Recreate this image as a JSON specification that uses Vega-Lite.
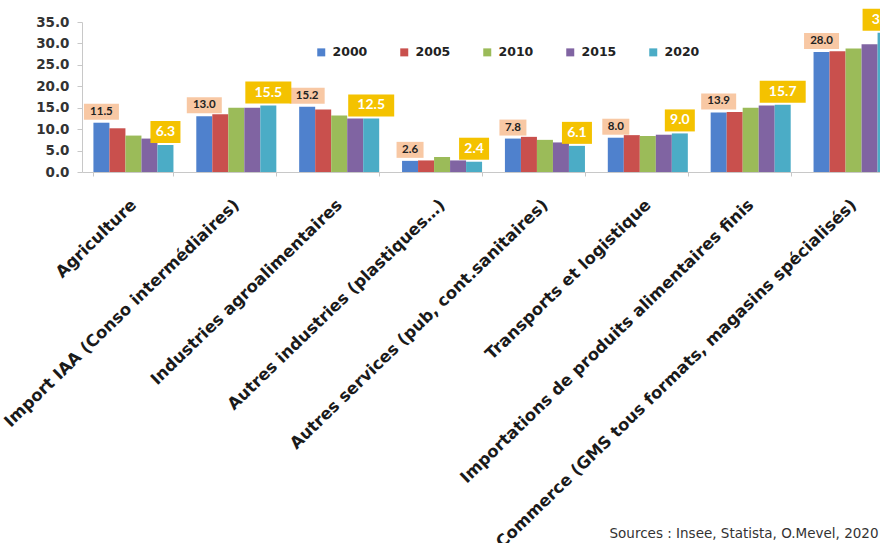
{
  "$schema": "https://vega.github.io/schema/vega-lite/v6.json",
  "width": 798,
  "height": 150,
  "autosize": {"type": "none"},
  "padding": {"left": 82, "top": 22, "right": 0, "bottom": 371},
  "background": "white",
  "config": {"view": {"stroke": null}, "font": "DejaVu Sans"},
  "data": {
    "values": [
      {"secteur": "Agriculture", "annee": "2000", "valeur": 11.5},
      {"secteur": "Agriculture", "annee": "2005", "valeur": 10.2},
      {"secteur": "Agriculture", "annee": "2010", "valeur": 8.5},
      {"secteur": "Agriculture", "annee": "2015", "valeur": 7.8},
      {"secteur": "Agriculture", "annee": "2020", "valeur": 6.3},
      {"secteur": "Import IAA (Conso intermédiaires)", "annee": "2000", "valeur": 13.0},
      {"secteur": "Import IAA (Conso intermédiaires)", "annee": "2005", "valeur": 13.5},
      {"secteur": "Import IAA (Conso intermédiaires)", "annee": "2010", "valeur": 15.0},
      {"secteur": "Import IAA (Conso intermédiaires)", "annee": "2015", "valeur": 15.0},
      {"secteur": "Import IAA (Conso intermédiaires)", "annee": "2020", "valeur": 15.5},
      {"secteur": "Industries agroalimentaires", "annee": "2000", "valeur": 15.2},
      {"secteur": "Industries agroalimentaires", "annee": "2005", "valeur": 14.6},
      {"secteur": "Industries agroalimentaires", "annee": "2010", "valeur": 13.2},
      {"secteur": "Industries agroalimentaires", "annee": "2015", "valeur": 12.5},
      {"secteur": "Industries agroalimentaires", "annee": "2020", "valeur": 12.5},
      {"secteur": "Autres industries (plastiques…)", "annee": "2000", "valeur": 2.6},
      {"secteur": "Autres industries (plastiques…)", "annee": "2005", "valeur": 2.7},
      {"secteur": "Autres industries (plastiques…)", "annee": "2010", "valeur": 3.5},
      {"secteur": "Autres industries (plastiques…)", "annee": "2015", "valeur": 2.7},
      {"secteur": "Autres industries (plastiques…)", "annee": "2020", "valeur": 2.4},
      {"secteur": "Autres services (pub, cont.sanitaires)", "annee": "2000", "valeur": 7.8},
      {"secteur": "Autres services (pub, cont.sanitaires)", "annee": "2005", "valeur": 8.2},
      {"secteur": "Autres services (pub, cont.sanitaires)", "annee": "2010", "valeur": 7.5},
      {"secteur": "Autres services (pub, cont.sanitaires)", "annee": "2015", "valeur": 6.9},
      {"secteur": "Autres services (pub, cont.sanitaires)", "annee": "2020", "valeur": 6.1},
      {"secteur": "Transports et logistique", "annee": "2000", "valeur": 8.0},
      {"secteur": "Transports et logistique", "annee": "2005", "valeur": 8.6},
      {"secteur": "Transports et logistique", "annee": "2010", "valeur": 8.4},
      {"secteur": "Transports et logistique", "annee": "2015", "valeur": 8.7},
      {"secteur": "Transports et logistique", "annee": "2020", "valeur": 9.0},
      {"secteur": "Importations de produits alimentaires finis", "annee": "2000", "valeur": 13.9},
      {"secteur": "Importations de produits alimentaires finis", "annee": "2005", "valeur": 14.0},
      {"secteur": "Importations de produits alimentaires finis", "annee": "2010", "valeur": 15.0},
      {"secteur": "Importations de produits alimentaires finis", "annee": "2015", "valeur": 15.5},
      {"secteur": "Importations de produits alimentaires finis", "annee": "2020", "valeur": 15.7},
      {"secteur": "Commerce (GMS tous formats, magasins spécialisés)", "annee": "2000", "valeur": 28.0},
      {"secteur": "Commerce (GMS tous formats, magasins spécialisés)", "annee": "2005", "valeur": 28.2},
      {"secteur": "Commerce (GMS tous formats, magasins spécialisés)", "annee": "2010", "valeur": 28.8},
      {"secteur": "Commerce (GMS tous formats, magasins spécialisés)", "annee": "2015", "valeur": 29.8},
      {"secteur": "Commerce (GMS tous formats, magasins spécialisés)", "annee": "2020", "valeur": 32.5}
    ]
  },
  "encoding": {
    "x": {
      "field": "secteur",
      "type": "nominal",
      "sort": ["Agriculture", "Import IAA (Conso intermédiaires)", "Industries agroalimentaires", "Autres industries (plastiques…)", "Autres services (pub, cont.sanitaires)", "Transports et logistique", "Importations de produits alimentaires finis", "Commerce (GMS tous formats, magasins spécialisés)"],
      "scale": {"range": [0, 823], "paddingInner": 0.222, "paddingOuter": 0.111},
      "axis": {
        "labelAngle": -44,
        "labelAlign": "right",
        "labelBaseline": "middle",
        "labelFont": "DejaVu Sans",
        "labelFontWeight": "bold",
        "labelFontSize": 16.5,
        "labelColor": "#1a1a1a",
        "labelLimit": 1000,
        "labelPadding": 26,
        "labelOverlap": false,
        "tickBand": "extent",
        "tickSize": 4,
        "tickColor": "#c8c8c8",
        "domainColor": "#c8c8c8",
        "title": "Sources : Insee, Statista, O.Mevel, 2020",
        "titleAnchor": "end",
        "titleAlign": "right",
        "titleX": 796,
        "titleY": 365,
        "titleBaseline": "alphabetic",
        "titleFont": "DejaVu Sans",
        "titleFontWeight": "normal",
        "titleFontSize": 13.5,
        "titleColor": "#333333"
      }
    },
    "xOffset": {
      "field": "annee",
      "type": "nominal",
      "scale": {"paddingInner": 0, "paddingOuter": 0}
    },
    "y": {
      "field": "valeur",
      "type": "quantitative",
      "scale": {"domain": [0, 35], "nice": false},
      "axis": {
        "values": [0, 5, 10, 15, 20, 25, 30, 35],
        "format": ".1f",
        "grid": false,
        "title": null,
        "labelOverlap": false,
        "labelFont": "DejaVu Sans",
        "labelFontWeight": "bold",
        "labelFontSize": 13.5,
        "labelColor": "#333333",
        "labelPadding": 8,
        "tickSize": 5,
        "tickColor": "#c8c8c8",
        "domainColor": "#c8c8c8"
      }
    }
  },
  "layer": [
    {
      "mark": {"type": "bar"},
      "encoding": {
        "color": {
          "field": "annee",
          "type": "nominal",
          "scale": {"domain": ["2000", "2005", "2010", "2015", "2020"], "range": ["#4F81CD", "#C9504D", "#9BBB59", "#8064A2", "#4BACC6"]},
          "legend": {
            "title": null,
            "orient": "none",
            "direction": "horizontal",
            "legendX": 233,
            "legendY": 24,
            "symbolType": "square",
            "symbolSize": 64,
            "symbolStrokeWidth": 0,
            "labelFont": "DejaVu Sans",
            "labelFontWeight": "bold",
            "labelFontSize": 12.5,
            "labelColor": "#222222",
            "labelOffset": 5,
            "columnPadding": 30
          }
        }
      }
    },
    {
      "transform": [{"filter": "datum.annee == '2000' && datum.valeur >= 10"}],
      "mark": {"type": "point", "shape": "M-1.75,-1.9H1.75V-0.3H-1.75Z", "filled": true, "fill": "#F8C8A4", "opacity": 1, "size": 400, "strokeWidth": 0}
    },
    {
      "transform": [{"filter": "datum.annee == '2000' && datum.valeur < 10"}],
      "mark": {"type": "point", "shape": "M-1.35,-1.9H1.35V-0.3H-1.35Z", "filled": true, "fill": "#F8C8A4", "opacity": 1, "size": 400, "strokeWidth": 0}
    },
    {
      "transform": [{"filter": "datum.annee == '2000'"}],
      "mark": {"type": "text", "font": "Lato", "fontWeight": "bold", "fontSize": 11.5, "color": "#222222", "baseline": "middle", "dy": -11},
      "encoding": {"text": {"field": "valeur", "type": "quantitative", "format": ".1f"}}
    },
    {
      "transform": [{"filter": "datum.annee == '2020' && datum.valeur >= 10"}],
      "mark": {"type": "point", "shape": "M-2.3,-2.4H2.3V-0.2H-2.3Z", "filled": true, "fill": "#F4C200", "opacity": 1, "size": 400, "strokeWidth": 0}
    },
    {
      "transform": [{"filter": "datum.annee == '2020' && datum.valeur < 10"}],
      "mark": {"type": "point", "shape": "M-1.5,-2.4H1.5V-0.2H-1.5Z", "filled": true, "fill": "#F4C200", "opacity": 1, "size": 400, "strokeWidth": 0}
    },
    {
      "transform": [{"filter": "datum.annee == '2020'"}],
      "mark": {"type": "text", "font": "Lato", "fontWeight": "bold", "fontSize": 14, "color": "#ffffff", "baseline": "middle", "dy": -13},
      "encoding": {"text": {"field": "valeur", "type": "quantitative", "format": ".1f"}}
    }
  ]
}
